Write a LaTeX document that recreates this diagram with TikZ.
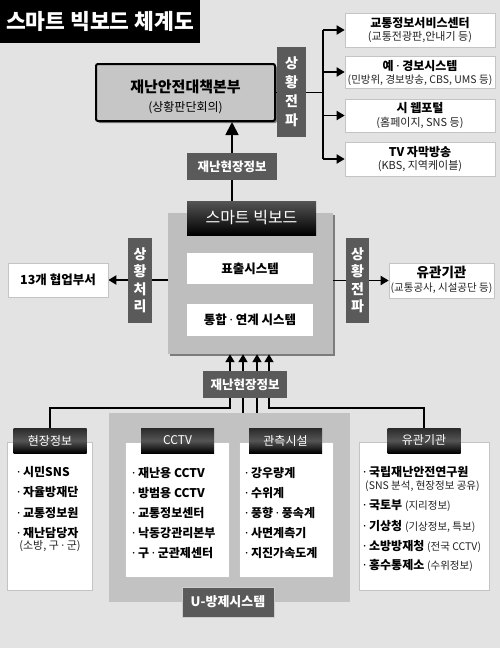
\documentclass[tikz,border=0pt]{standalone}
\usepackage{fontspec}
\setmainfont{Noto Sans CJK KR}
\newfontfamily\latinf{Noto Sans}
\usetikzlibrary{arrows.meta,shadows,calc}
\pgfdeclarelayer{backdrop}
\pgfdeclarelayer{bg}
\pgfsetlayers{backdrop,bg,main}
\definecolor{bgc}{HTML}{E3E3E3}
\definecolor{lblc}{HTML}{5A5A5A}
\definecolor{hqfill}{HTML}{C6C6C6}
\definecolor{sbfill}{HTML}{BEBEBE}
\definecolor{ufill}{HTML}{C2C2C2}
\definecolor{wline}{HTML}{C4C4C4}
\definecolor{hdrmid}{HTML}{555555}
\definecolor{hdrtop}{HTML}{2A2A2A}
\definecolor{subc}{HTML}{222222}
\newcommand\mdot{{\latinf\bfseries ·}}
\newcommand\smtxt[1]{{\mdseries\fontsize{10.5}{12}\selectfont\color{subc}#1}}
\tikzset{
  sz/.style 2 args={minimum width=#1pt, minimum height=#2pt},
  wbox/.style={draw=wline, line width=0.6pt, fill=white, inner sep=0pt},
  lbl/.style={fill=lblc, text=white, inner sep=0pt},
  vlbl/.style={lbl, align=center, font=\bfseries\fontsize{14}{19}\selectfont},
  hdr/.style={inner sep=0pt, top color=hdrtop, bottom color=black, middle color=hdrmid, text=white, font=\fontsize{12}{14}\selectfont, sz={73}{25}},
  ttl/.style={inner sep=0pt, font=\bfseries\fontsize{12}{14}\selectfont},
  subt/.style={inner sep=0pt, font=\fontsize{10.5}{12}\selectfont, text=subc},
  rsub/.style={subt, font=\fontsize{11}{12}\selectfont},
  item/.style={anchor=west, inner sep=0pt, font=\bfseries\fontsize{12}{14}\selectfont},
  conn/.style={line width=1.8pt},
  arr/.style={conn, -{Triangle[length=8pt,width=9pt]}},
  bigarr/.style={conn, -{Triangle[length=13pt,width=13pt]}},
  shd/.style={drop shadow={shadow xshift=2pt, shadow yshift=-2pt, opacity=0.45, fill=black}}
}
\begin{document}
\begin{tikzpicture}[x=1pt,y=-1pt]
\useasboundingbox (0,0) rectangle (500,648);
\begin{pgfonlayer}{backdrop}
\fill[bgc] (0,0) rectangle (500,648);
\end{pgfonlayer}

% title
\node[fill=black, text=white, sz={200}{43}, inner sep=0pt, font=\bfseries\fontsize{21.5}{24}\selectfont] (title) at (100,21.5) {스마트 빅보드 체계도};

% HQ
\node[draw=black, line width=2pt, fill=hqfill, rounded corners=2pt, sz={179}{57}, shd] (hq) at (185.5,92.5) {};
\node[inner sep=0pt, font=\bfseries\fontsize{15}{17}\selectfont] (hqt) at (185.5,87) {재난안전대책본부};
\node[inner sep=0pt, font=\fontsize{12}{14}\selectfont] (hqs) at (185.5,108) {(상황판단회의)};

% top spread label
\node[vlbl, sz={29}{90}] (lblT) at (291.5,92) {상\\황\\전\\파};
\coordinate (bus) at (323,92.5);

% right boxes
\node[wbox, sz={150}{34}] (r1) at (420,30) {};
\node[wbox, sz={150}{32}] (r2) at (420,72) {};
\node[wbox, sz={150}{33}] (r3) at (420,115.5) {};
\node[wbox, sz={150}{34}] (r4) at (420,159) {};
\node[ttl] (r1t) at (420,23) {교통정보서비스센터};
\node[rsub] (r1s) at (420,37.5) {(교통전광판,안내기 등)};
\node[ttl] (r2t) at (420,66) {예 \mdot{} 경보시스템};
\node[subt] (r2s) at (420,80) {(민방위, 경보방송, CBS, UMS 등)};
\node[ttl] (r3t) at (420,108.5) {시 웹포털};
\node[rsub] (r3s) at (420,122.5) {(홈페이지, SNS 등)};
\node[ttl] (r4t) at (420,152) {TV 자막방송};
\node[rsub] (r4s) at (420,166) {(KBS, 지역케이블)};

% info label 1
\node[lbl, sz={90}{27}, font=\bfseries\fontsize{12.5}{14}\selectfont] (info1) at (232,166.5) {재난현장정보};

% smart board
\node[fill=sbfill, sz={165}{141}, inner sep=0pt, shd] (sb) at (250.5,283.5) {};
\node[inner sep=0pt, top color=hdrmid, bottom color=black, middle color=hdrtop, text=white, sz={129}{34}, font=\fontsize{16}{18}\selectfont] (sbhead) at (251.5,218) {스마트 빅보드};
\node[fill=white, inner sep=0pt, sz={126}{31}, font=\bfseries\fontsize{12.5}{14}\selectfont] (disp) at (250,268.5) {표출시스템};
\node[fill=white, inner sep=0pt, sz={126}{32}, font=\bfseries\fontsize{12.5}{14}\selectfont] (integ) at (250,320) {통합 \mdot{} 연계 시스템};

% left side
\node[vlbl, sz={24}{85}, font=\bfseries\fontsize{14}{17.5}\selectfont] (lblL) at (140,280.5) {상\\황\\처\\리};
\node[wbox, sz={100}{34}, font=\bfseries\fontsize{12.5}{14}\selectfont] (cnt) at (58,280) {13개 협업부서};

% right side
\node[vlbl, sz={23}{85}, font=\bfseries\fontsize{14}{17.5}\selectfont] (lblR) at (357.5,280.5) {상\\황\\전\\파};
\node[wbox, sz={105}{35}] (agr) at (441.5,280.5) {};
\node[inner sep=0pt, font=\bfseries\fontsize{13.5}{15}\selectfont] (agrt) at (441.5,272) {유관기관};
\node[subt] (agrs) at (441.5,288) {(교통공사, 시설공단 등)};

% info label 2
\node[lbl, sz={84}{27}, font=\bfseries\fontsize{12.5}{14}\selectfont] (info2) at (245,384.5) {재난현장정보};

% bottom: field info
\node[wbox, sz={85}{148}] (field) at (49.5,516) {};
\node[hdr] (hdr1) at (50,440.5) {현장정보};
\foreach \t [count=\i from 0] in {시민SNS, 자율방재단, 교통정보원, 재난담당자}
  \node[item] (fa\i) at (17,472+20.3*\i) {\mdot{} \t};
\node[rsub] (fas) at (50,546.5) {(소방, 구 \mdot{} 군)};

% U system
\node[fill=ufill, sz={241}{189}, inner sep=0pt] (ubox) at (229.5,507.5) {};
\node[wbox, sz={104}{135}] (cctv) at (177,509.5) {};
\node[hdr] (hdr2) at (177.5,440.5) {CCTV};
\foreach \t [count=\i from 0] in {재난용 CCTV, 방범용 CCTV, 교통정보센터, 낙동강관리본부, 구 \mdot{} 군관제센터}
  \node[item] (cc\i) at (132,473+20*\i) {\mdot{} \t};
\node[wbox, sz={94}{135}] (obs) at (286,509.5) {};
\node[hdr] (hdr3) at (285.5,440.5) {관측시설};
\foreach \t [count=\i from 0] in {강우량계, 수위계, 풍향 \mdot{} 풍속계, 사면계측기, 지진가속도계}
  \node[item] (ob\i) at (245,473+20*\i) {\mdot{} \t};
\node[lbl, sz={92}{30}, draw=white!70!lblc, line width=0.5pt, font=\bfseries\fontsize{13}{15}\selectfont] (ulab) at (228,602) {U-방제시스템};

% agencies
\node[wbox, sz={130}{148}] (agency) at (424,516) {};
\node[hdr] (hdr4) at (424,440.5) {유관기관};
\node[item] (ag1) at (363,472) {\mdot{} 국립재난안전연구원};
\node[subt, anchor=west] (ag1s) at (365,486.5) {(SNS 분석, 현장정보 공유)};
\node[item] (ag2) at (363,506) {\mdot{} 국토부 \smtxt{(지리정보)}};
\node[item] (ag3) at (363,526) {\mdot{} 기상청 \smtxt{(기상정보, 특보)}};
\node[item] (ag4) at (363,546) {\mdot{} 소방방재청 \smtxt{(전국 CCTV)}};
\node[item] (ag5) at (363,565) {\mdot{} 홍수통제소 \smtxt{(수위정보)}};

% connectors
\coordinate (j1) at (230,408);
\coordinate (j2) at (243,408);
\coordinate (j3) at (257,408);
\coordinate (j4) at (269,408);
\begin{pgfonlayer}{bg}
\draw[bigarr] (info1 |- sbhead.north) -- (info1 |- hq.south);
\draw[conn] (hq.east) -- (bus);
\draw[conn] (bus |- r1) -- (bus |- r4);
\foreach \r in {r1,r2,r3,r4}
  \draw[arr] (bus |- \r) -- (\r.west);
\draw[arr] (sb.west |- cnt) -- (cnt.east);
\draw[arr] (sb.east |- agr) -- (agr.west);
\draw[arr] (hdr1.north) |- (j1) -- (j1 |- sb.south);
\draw[arr] (ubox.north -| j2) -- (j2 |- sb.south);
\draw[arr] (ubox.north -| j3) -- (j3 |- sb.south);
\draw[arr] (hdr4.north) |- (j4) -- (j4 |- sb.south);
\end{pgfonlayer}
\end{tikzpicture}
\end{document}
